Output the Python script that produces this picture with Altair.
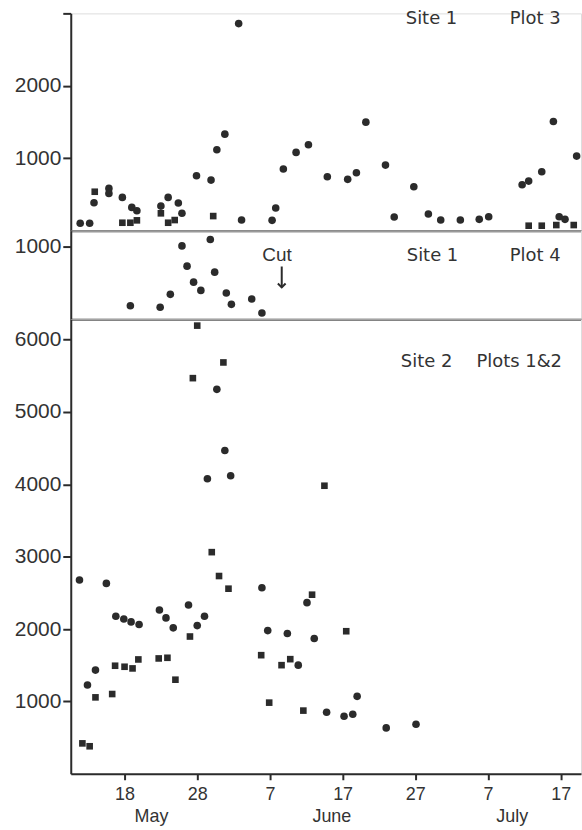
import altair as alt
import pandas as pd

# x = day counted from 30 April (18 May = 18, 7 June = 38, 7 July = 68)
x_tick_days = [18, 28, 38, 48, 58, 68, 78]
month_names = ["May", "June", "July"]

# Site 1, Plot 3
p1_circle_day = [11.9, 13.2, 13.8, 15.85, 15.85, 17.7, 19.0, 19.7, 23.0, 24.0, 25.4, 25.9,
                 27.9, 29.9, 30.7, 31.8, 33.7, 34.1, 38.3, 38.8, 39.85, 41.6, 43.3, 45.9,
                 48.7, 49.9, 51.2, 53.9, 55.1, 57.8, 59.8, 61.5, 64.2, 66.8, 68.1, 72.7,
                 73.6, 75.4, 77.0, 77.8, 78.6, 80.2]
p1_circle_val = [101, 101, 385, 583, 514, 459, 321, 274, 339, 459, 381, 239,
                 757, 698, 1116, 1332, 2859, 146, 142, 312, 850, 1080, 1185, 743,
                 708, 799, 1498, 905, 188, 606, 229, 146, 146, 156, 192, 633,
                 684, 812, 1508, 192, 156, 1029]
p1_square_day = [13.9, 17.7, 18.8, 19.7, 23.0, 24.0, 24.9, 30.2, 73.6, 75.4, 77.4, 79.8]
p1_square_val = [537, 109, 109, 142, 239, 109, 146, 201, 68, 68, 77, 77]

# Site 1, Plot 4
p2_circle_day = [18.8, 22.9, 24.3, 25.9, 26.6, 27.5, 28.5, 29.8, 30.4, 32.0, 32.7, 35.5, 36.9]
p2_circle_val = [188, 166, 345, 1015, 735, 514, 400, 1103, 652, 363, 207, 280, 87]

# Site 2, Plots 1 & 2
p3_circle_day = [11.8, 12.9, 14.0, 15.5, 16.8, 17.9, 18.9, 20.0, 22.8, 23.7, 24.7, 26.8,
                 28.0, 29.0, 29.4, 30.7, 31.8, 32.6, 36.9, 37.7, 40.4, 41.9, 43.1, 44.1,
                 45.8, 48.2, 49.4, 50.0, 54.0, 58.1]
p3_circle_val = [2678, 1226, 1433, 2631, 2176, 2140, 2099, 2062, 2264, 2154, 2017, 2333,
                 2048, 2176, 4077, 5313, 4468, 4118, 2572, 1979, 1938, 1501, 2365, 1869,
                 850, 795, 822, 1070, 634, 685]
p3_square_day = [12.2, 13.2, 14.0, 16.3, 16.7, 18.0, 19.1, 19.9, 22.7, 23.9, 25.0, 27.0,
                 27.4, 28.0, 30.0, 31.0, 31.6, 32.3, 36.8, 37.9, 39.6, 40.8, 42.6, 43.8,
                 45.5, 48.5]
p3_square_val = [420, 380, 1056, 1102, 1493, 1479, 1456, 1580, 1594, 1603, 1300, 1897,
                 5468, 6194, 3063, 2733, 5685, 2558, 1639, 983, 1501, 1584, 873, 2475,
                 3981, 1970]

INK = "#2b2b2b"
TXT = "#333333"
W = 512
X_DOMAIN = [10.6, 80.8]

label_expr = ("datum.value > 61 ? datum.value - 61 : "
              "(datum.value > 31 ? datum.value - 31 : datum.value)")


def y_axis(values, hide_above=None):
    kw = dict(values=values, title=None, grid=False, domainColor=INK, domainWidth=2,
              tickColor=INK, tickWidth=2, tickSize=8, labelPadding=2, format="d",
              labelFont="Liberation Sans", labelFontSize=21, labelColor=TXT,
              minExtent=70, maxExtent=70)
    if hide_above is not None:
        kw["labelExpr"] = f"datum.value >= {hide_above} ? '' : datum.label"
    return alt.Axis(**kw)


sep_axis = alt.Axis(labels=False, ticks=False, domain=True, title=None, grid=False,
                    domainColor=INK, domainWidth=2)
bottom_axis = alt.Axis(values=x_tick_days, labelExpr=label_expr, title=None, grid=False,
                       domainColor=INK, domainWidth=2, tickColor=INK, tickWidth=2,
                       tickSize=6, labelPadding=6, labelFont="Liberation Sans",
                       labelFontSize=18, labelColor=TXT)


def points(days, vals, shape, size, ydom, yax, xax):
    df = pd.DataFrame({"day": days, "value": vals})
    return alt.Chart(df).mark_point(shape=shape, filled=True, size=size, color=INK,
                                    opacity=1).encode(
        x=alt.X("day:Q", scale=alt.Scale(domain=X_DOMAIN, nice=False, zero=False), axis=xax),
        y=alt.Y("value:Q", scale=alt.Scale(domain=ydom, nice=False), axis=yax),
    )


def label(text, x, y, size=18, align="center", font="DejaVu Sans", baseline="middle"):
    return alt.Chart(pd.DataFrame({"t": [text]})).mark_text(
        font=font, fontSize=size, color=TXT, align=align, baseline=baseline
    ).encode(text="t:N", x=alt.value(x), y=alt.value(y))


# Panel 1
d1 = [0, 3000]
ax1 = y_axis([1000, 2000, 3000], hide_above=3000)
panel1 = alt.layer(
    points(p1_circle_day, p1_circle_val, "circle", 58, d1, ax1, sep_axis),
    points(p1_square_day, p1_square_val, "square", 44, d1, ax1, sep_axis),
    label("Site 1", 362, 6),
    label("Plot 3", 466, 6),
).properties(width=W, height=218)

# Panel 2
d2 = [0, 1226]
ax2 = y_axis([1000])
panel2 = alt.layer(
    points(p2_circle_day, p2_circle_val, "circle", 58, d2, ax2, sep_axis),
    label("Site 1", 363, 25),
    label("Plot 4", 466, 25),
    label("Cut", 207, 24, size=19, font="Liberation Sans"),
    alt.Chart(pd.DataFrame({"a": [0]})).mark_rule(color=INK, strokeWidth=2).encode(
        x=alt.value(211.7), y=alt.value(36), y2=alt.value(57)),
    alt.Chart(pd.DataFrame({"a": [0]})).mark_point(
        shape="M -1 -1 L 0 0 L 1 -1", filled=False, size=60, color=INK, strokeWidth=2,
        opacity=1).encode(x=alt.value(211.7), y=alt.value(57)),
).properties(width=W, height=89)

# Panel 3
d3 = [0, 6281]
ax3 = y_axis([1000, 2000, 3000, 4000, 5000, 6000])
month_layers = [
    label(m, x, 504, size=18, font="Liberation Sans", baseline="alphabetic")
    for m, x in zip(month_names, [81, 262, 443])
]
panel3 = alt.layer(
    points(p3_circle_day, p3_circle_val, "circle", 58, d3, ax3, bottom_axis),
    points(p3_square_day, p3_square_val, "square", 44, d3, ax3, bottom_axis),
    label("Site 2", 357, 43),
    label("Plots 1&2", 450, 43),
    *month_layers,
).properties(width=W, height=456)

chart = alt.vconcat(panel1, panel2, panel3, spacing=0, bounds="flush").properties(
    padding={"left": 0, "top": 8, "right": 0, "bottom": 0}
).configure_view(stroke=None).configure(background="white")

chart.save("out.html", embed_options={"renderer": "svg", "actions": False})
